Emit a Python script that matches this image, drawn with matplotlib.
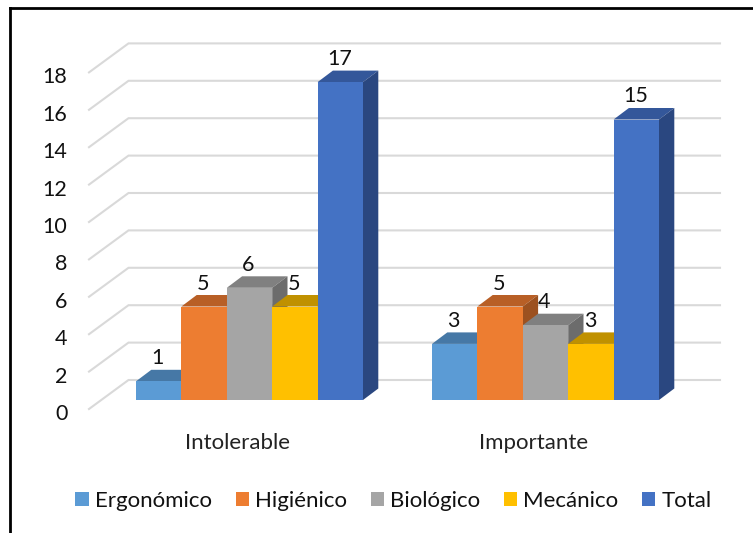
import matplotlib
matplotlib.use('Agg')
import matplotlib.pyplot as plt
from matplotlib.lines import Line2D
from matplotlib.patches import Patch, Polygon

plt.rcParams['font.family'] = ['Lato', 'DejaVu Sans']

categories = ['Intolerable', 'Importante']
series_names = ['Ergonómico', 'Higiénico', 'Biológico', 'Mecánico', 'Total']
ergonomico = [1, 3]
higienico = [5, 5]
biologico = [6, 4]
mecanico = [5, 3]
total = [17, 15]
y_ticks = [0, 2, 4, 6, 8, 10, 12, 14, 16, 18]

front_colors = ['#5B9BD5', '#ED7D31', '#A5A5A5', '#FFC000', '#4472C4']
top_colors = ['#4678A6', '#B85F26', '#808080', '#C09100', '#34579A']
side_colors = ['#37638B', '#9C5120', '#6C6C6C', '#9C7600', '#2A4780']

W, H = 753, 533
X_PX = 296.0   # pixels per category
Y_PX = 18.7    # pixels per y unit
X0, Y0 = 249.5, 400.0  # pixel position of category 0 / value 0


def dx(px):
	return px / X_PX


def dy(px):
	return px / Y_PX


fig = plt.figure(figsize=(W / 100, H / 100), dpi=100)
ax = fig.add_axes([0, 0, 1, 1])
ax.set_xlim(-X0 / X_PX, (W - X0) / X_PX)
ax.set_ylim((Y0 - H) / Y_PX, Y0 / Y_PX)
ax.axis('off')

# back wall gridlines
for t in y_ticks:
	xs = [dx(89 - X0), dx(128.5 - X0), dx(720 - X0)]
	ys = [t - dy(9), t + dy(20), t + dy(20)]
	ax.plot(xs, ys, color='#D9D9D9', lw=1.5, solid_joinstyle='miter', zorder=1)
	ax.text(dx(67.5 - X0), t - dy(14), str(t), ha='right', va='center', fontsize=15.5, color='#111111')

# bars, left to right so the neighbour covers the side face
bar_w = dx(45.4)
depth_x, depth_y = dx(15.3), dy(11.5)
all_series = [ergonomico, higienico, biologico, mecanico, total]
z = 2
for c in range(len(categories)):
	for s, values in enumerate(all_series):
		v = values[c]
		left = c + (s - 2.5) * bar_w
		right = left + bar_w
		ax.bar(left, v, width=bar_w, align='edge', color=front_colors[s], zorder=z + 0.5)
		ax.add_patch(Polygon([(left, v), (right, v), (right + depth_x, v + depth_y), (left + depth_x, v + depth_y)],
			closed=True, facecolor=top_colors[s], edgecolor='none', zorder=z))
		ax.add_patch(Polygon([(right, 0), (right, v), (right + depth_x, v + depth_y), (right + depth_x, depth_y)],
			closed=True, facecolor=side_colors[s], edgecolor='none', zorder=z))
		ax.text(left + bar_w / 2 - dx(1), v + dy(23), str(v), ha='center', va='center', fontsize=15.5, color='#111111', zorder=50)
		z += 1

for c, name in enumerate(categories):
	ax.text(c - dx(12), dy(400 - 443), name, ha='center', va='center', fontsize=16, color='#222222')

handles = [Patch(facecolor=col, edgecolor='none') for col in front_colors]
leg = ax.legend(handles, series_names, ncol=5, frameon=False, loc='center',
	bbox_to_anchor=(393.5 / W, 1 - 501 / H), fontsize=16, handlelength=0.6, handleheight=0.6,
	handletextpad=0.27, columnspacing=1.07, labelcolor='#111111', borderpad=0, borderaxespad=0)

# frame of the picture, only top and left show
fig.add_artist(Line2D([10 / W, 10 / W], [0, 1 - 8 / H], color='black', lw=2, solid_capstyle='projecting'))
fig.add_artist(Line2D([10 / W, 1], [1 - 8 / H, 1 - 8 / H], color='black', lw=2))

fig.savefig('out.png', dpi=100)
